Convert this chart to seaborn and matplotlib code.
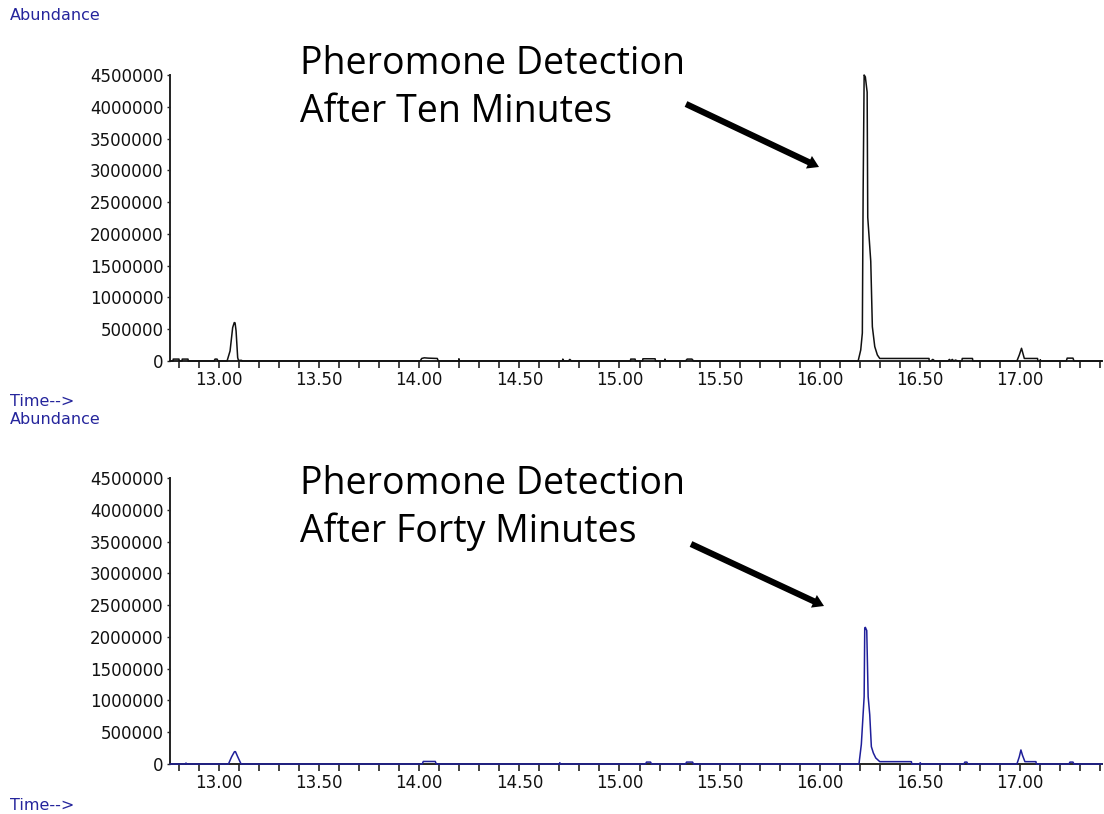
import matplotlib
matplotlib.use("Agg")
import matplotlib.pyplot as plt
import seaborn as sns
import numpy as np
import pandas as pd
from matplotlib.patches import FancyArrowPatch
from matplotlib.ticker import MultipleLocator, FuncFormatter

# ---------------- data ----------------
time_10min = [12.755, 12.770, 12.771, 12.800, 12.801, 12.815, 12.816, 12.845, 12.846,
              12.975, 12.980, 12.990, 12.995,
              13.040, 13.055, 13.068, 13.076, 13.080, 13.085, 13.093, 13.097, 13.113, 13.115,
              14.005, 14.012, 14.025, 14.045, 14.090, 14.095,
              14.197, 14.198, 14.200,
              14.715, 14.717, 14.722, 14.745, 14.752, 14.760, 14.770,
              15.055, 15.056, 15.078, 15.080,
              15.115, 15.117, 15.178, 15.180,
              15.225, 15.227, 15.230,
              15.330, 15.338, 15.362, 15.370,
              16.192, 16.205, 16.213, 16.215, 16.217, 16.222, 16.228, 16.237, 16.240,
              16.255, 16.263, 16.275, 16.288, 16.300, 16.546, 16.547,
              16.555, 16.565, 16.575,
              16.640, 16.648, 16.655, 16.662, 16.670, 16.678, 16.690,
              16.710, 16.712, 16.763, 16.765,
              16.985, 16.997, 17.008, 17.015, 17.022, 17.088, 17.090,
              17.100, 17.102, 17.104,
              17.232, 17.236, 17.265, 17.270, 17.410]
abundance_10min = [0, 0, 30000, 30000, 0, 0, 30000, 30000, 0,
                   0, 30000, 30000, 0,
                   0, 158000, 526000, 605000, 600000, 474000, 53000, 10000, 10000, 0,
                   0, 40000, 50000, 45000, 40000, 0,
                   0, 35000, 0,
                   0, 30000, 0, 0, 25000, 0, 0,
                   0, 30000, 30000, 0,
                   0, 35000, 35000, 0,
                   0, 30000, 0,
                   0, 30000, 30000, 0,
                   0, 174000, 440000, 1590000, 2670000, 4500000, 4470000, 4230000, 2260000,
                   1570000, 540000, 226000, 95000, 40000, 40000, 0,
                   0, 25000, 0,
                   0, 25000, 0, 25000, 0, 15000, 0,
                   0, 40000, 40000, 0,
                   0, 95000, 200000, 120000, 40000, 40000, 0,
                   0, 20000, 0,
                   0, 45000, 45000, 0, 0]

time_40min = [12.755, 12.830, 12.835, 12.838,
              13.047, 13.063, 13.077, 13.082, 13.093, 13.110,
              14.015, 14.020, 14.080, 14.085,
              14.700, 14.702, 14.704,
              15.130, 15.135, 15.155, 15.160,
              15.330, 15.335, 15.365, 15.370,
              16.195, 16.197, 16.208, 16.222, 16.225, 16.228, 16.235, 16.242,
              16.250, 16.258, 16.268, 16.280, 16.300, 16.458, 16.460,
              16.500, 16.502, 16.506,
              16.720, 16.725, 16.735, 16.740,
              16.985, 16.997, 17.005, 17.013, 17.025, 17.080, 17.082,
              17.245, 17.250, 17.265, 17.270, 17.410]
abundance_40min = [0, 0, 15000, 0,
                   0, 115000, 194000, 194000, 115000, 0,
                   0, 40000, 40000, 0,
                   0, 20000, 0,
                   0, 30000, 30000, 0,
                   0, 30000, 30000, 0,
                   0, 20000, 310000, 1060000, 2140000, 2150000, 2100000, 1060000,
                   774000, 273000, 173000, 95000, 37000, 37000, 0,
                   0, 20000, 0,
                   0, 30000, 30000, 0,
                   0, 115000, 221000, 136000, 37000, 37000, 0,
                   0, 30000, 30000, 0, 0]

y_ticks = [0, 500000, 1000000, 1500000, 2000000, 2500000, 3000000, 3500000, 4000000, 4500000]
x_major_ticks = [13.0, 13.5, 14.0, 14.5, 15.0, 15.5, 16.0, 16.5, 17.0]
annotation_lines = [["Pheromone Detection", "After Ten Minutes"],
                    ["Pheromone Detection", "After Forty Minutes"]]
trace_colors = ["#111111", "#1f1f9a"]

# ---------------- figure ----------------
sns.set_theme(style="white")
plt.rcParams["font.family"] = ["DejaVu Sans"]

W, H = 1104, 814
fig = plt.figure(figsize=(W / 100, H / 100), dpi=100)
fig.patch.set_facecolor("white")

def fx(px):
    return px / W

def fy(py):
    return 1 - py / H

label_blue = "#25259c"
axes_specs = [(75, 361), (478, 764)]
data = [(time_10min, abundance_10min), (time_40min, abundance_40min)]

for i, ((top_px, bot_px), (t, a)) in enumerate(zip(axes_specs, data)):
    ax = fig.add_axes([fx(170), fy(bot_px), fx(1102) - fx(170), (bot_px - top_px) / H])
    df = pd.DataFrame({"time": t, "abundance": a})
    sns.lineplot(data=df, x="time", y="abundance", ax=ax, estimator=None, sort=False,
                 color=trace_colors[i], linewidth=1.1, zorder=3)
    for ln in ax.lines:
        ln.set_clip_on(False)
    ax.set_xlim(12.755, 17.41)
    ax.set_ylim(0, 4500000)
    ax.set_xlabel("")
    ax.set_ylabel("")
    ax.set_facecolor("white")
    for s in ["top", "right"]:
        ax.spines[s].set_visible(False)
    for s in ["left", "bottom"]:
        ax.spines[s].set_color("#222222")
        ax.spines[s].set_linewidth(1.4)
    ax.set_xticks(x_major_ticks)
    ax.xaxis.set_minor_locator(MultipleLocator(0.1))
    ax.xaxis.set_major_formatter(FuncFormatter(lambda v, p: f"{v:.2f}"))
    ax.set_yticks(y_ticks)
    ax.yaxis.set_major_formatter(FuncFormatter(lambda v, p: f"{int(v)}"))
    ax.tick_params(axis="x", which="both", direction="out", length=5, width=1.2,
                   color="#222222", bottom=True, pad=2.5, labelsize=12, labelcolor="#111111")
    ax.tick_params(axis="y", which="major", direction="out", length=2.5, width=1.0,
                   color="#222222", left=True, pad=2.0, labelsize=12, labelcolor="#111111")
    ax.grid(False)

    # "Abundance" and "Time-->" labels
    fig.text(fx(10), fy(top_px - 59), "Abundance", color=label_blue, fontsize=11.5,
             ha="left", va="center")
    fig.text(fx(10), fy(bot_px + 41), "Time-->", color=label_blue, fontsize=11.5,
             ha="left", va="center")

# ---------------- annotations ----------------
text_baselines = [(73.5, 122), (493.5, 542)]
for lines, (b1, b2) in zip(annotation_lines, text_baselines):
    fig.text(fx(300), fy(b1), lines[0], fontsize=27, family=["Open Sans", "DejaVu Sans"],
             color="black", ha="left", va="baseline")
    fig.text(fx(300), fy(b2), lines[1], fontsize=27, family=["Open Sans", "DejaVu Sans"],
             color="black", ha="left", va="baseline")

arrows = [((686, 104), (819, 167)), ((691, 544), (824, 606))]
for (x0, y0), (x1, y1) in arrows:
    arr = FancyArrowPatch((fx(x0), fy(y0)), (fx(x1), fy(y1)), transform=fig.transFigure,
                          arrowstyle="simple,head_length=0.8,head_width=1.0,tail_width=0.45",
                          mutation_scale=10, linewidth=0, color="black",
                          shrinkA=0, shrinkB=0)
    fig.add_artist(arr)

fig.savefig("out.png", dpi=100, facecolor="white")
